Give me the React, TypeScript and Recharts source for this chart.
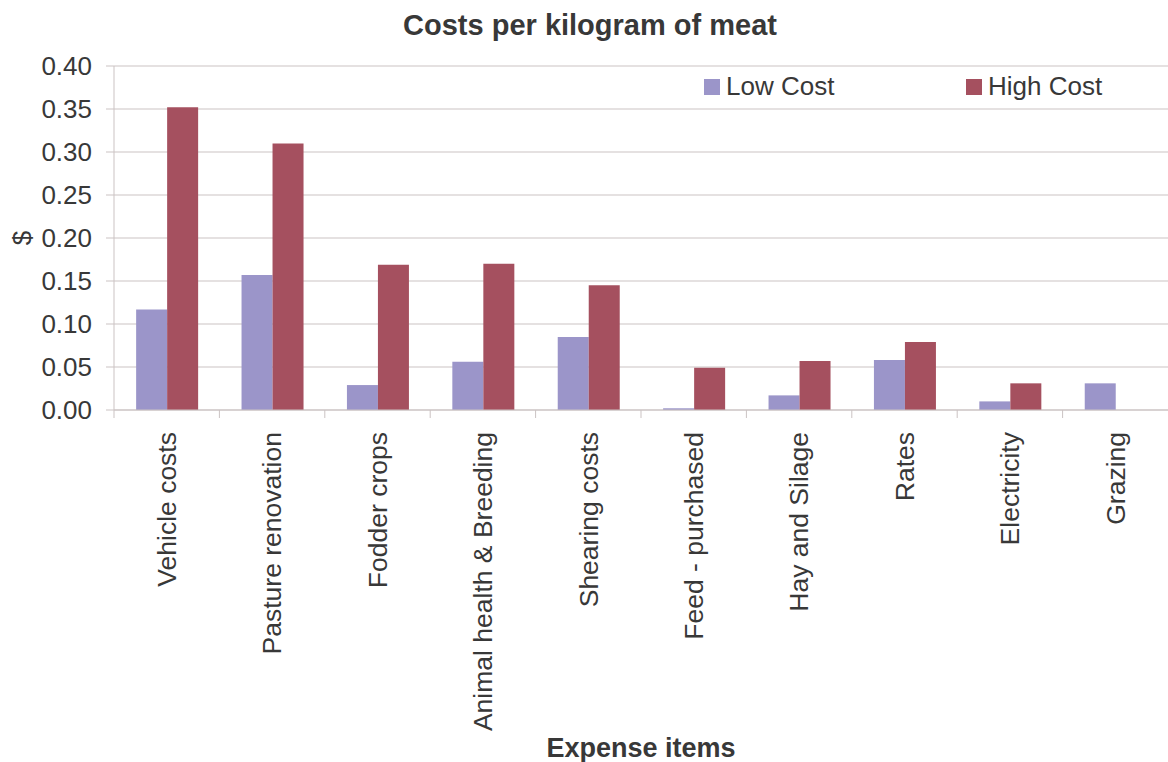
import { BarChart, Bar, XAxis, YAxis, CartesianGrid, Label } from 'recharts'

const CATEGORIES = [
  'Vehicle costs',
  'Pasture renovation',
  'Fodder crops',
  'Animal health & Breeding',
  'Shearing costs',
  'Feed - purchased',
  'Hay and Silage',
  'Rates',
  'Electricity',
  'Grazing',
]
const LOW_COST = [0.117, 0.157, 0.029, 0.056, 0.085, 0.002, 0.017, 0.058, 0.010, 0.031]
const HIGH_COST = [0.352, 0.310, 0.169, 0.170, 0.145, 0.049, 0.057, 0.079, 0.031, 0]
const Y_TICKS = [0, 0.05, 0.1, 0.15, 0.2, 0.25, 0.3, 0.35, 0.4]
const SERIES = [
  { key: 'low', label: 'Low Cost', color: '#9b95c9' },
  { key: 'high', label: 'High Cost', color: '#a5505f' },
]

const GRID_COLOR = '#cbc3c3'
const TEXT_COLOR = '#383838'
const FONT = '"Liberation Sans", Arial, sans-serif'

const W = 1168
const H = 762
const Y_AXIS_W = 114
const BAND = (W - Y_AXIS_W) / CATEGORIES.length

const data = CATEGORIES.map((name, i) => ({
  name,
  low: LOW_COST[i],
  high: HIGH_COST[i],
}))

function CategoryTick(props: any) {
  const { x, y, payload } = props
  return (
    <g>
      <line x1={x - BAND / 2} y1={y} x2={x - BAND / 2} y2={y + 8} stroke={GRID_COLOR} />
      <text
        x={x}
        y={y + 22}
        transform={`rotate(-90, ${x}, ${y + 22})`}
        textAnchor="end"
        dy="0.35em"
        fill={TEXT_COLOR}
        fontSize={26.5}
        fontFamily={FONT}
      >
        {payload.value}
      </text>
    </g>
  )
}

// rotated "$" to the left of the value axis
function DollarLabel(props: any) {
  const vb = props.viewBox || {}
  const cx = (vb.x ?? 0) + 22
  const cy = (vb.y ?? 0) + (vb.height ?? 0) / 2
  return (
    <text
      x={cx}
      y={cy}
      transform={`rotate(-90, ${cx}, ${cy})`}
      textAnchor="middle"
      dy="0.35em"
      fill={TEXT_COLOR}
      fontSize={26}
      fontFamily={FONT}
    >
      $
    </text>
  )
}

export default function App() {
  return (
    <div style={{ position: 'absolute', left: 0, top: 0, width: W, height: H, background: '#fff' }}>
      <div
        style={{
          position: 'absolute',
          top: 9,
          left: 0,
          width: W,
          textAlign: 'center',
          paddingLeft: 12,
          boxSizing: 'border-box',
          fontFamily: FONT,
          fontWeight: 'bold',
          fontSize: 29,
          color: TEXT_COLOR,
        }}
      >
        Costs per kilogram of meat
      </div>
      <div
        style={{
          position: 'absolute',
          top: 71,
          left: 704,
          display: 'flex',
          fontFamily: FONT,
          fontSize: 26,
          color: TEXT_COLOR,
          zIndex: 2,
        }}
      >
        {SERIES.map(s => (
          <div key={s.key} style={{ width: 262, display: 'flex', alignItems: 'center' }}>
            <span style={{ width: 16, height: 16, background: s.color, marginRight: 6 }} />
            <span>{s.label}</span>
          </div>
        ))}
      </div>
      <BarChart
        width={W}
        height={H}
        data={data}
        margin={{ top: 66, right: 0, left: 0, bottom: 0 }}
        barCategoryGap="21%"
        barGap={0}
      >
        <CartesianGrid horizontal vertical={false} stroke={GRID_COLOR} />
        <XAxis
          dataKey="name"
          interval={0}
          height={352}
          tickSize={0}
          tickMargin={0}
          stroke={GRID_COLOR}
          tick={<CategoryTick />}
          label={{
            value: 'Expense items',
            position: 'insideBottom',
            offset: 5,
            fill: TEXT_COLOR,
            fontSize: 27,
            fontWeight: 'bold',
            fontFamily: FONT,
          }}
        />
        <YAxis
          domain={[0, 0.4]}
          ticks={Y_TICKS}
          width={Y_AXIS_W}
          tickSize={8}
          tickMargin={14}
          stroke={GRID_COLOR}
          tickFormatter={(v: number) => v.toFixed(2)}
          tick={{ fill: TEXT_COLOR, fontSize: 26, fontFamily: FONT }}
        >
          <Label content={<DollarLabel />} />
        </YAxis>
        {SERIES.map(s => (
          <Bar key={s.key} dataKey={s.key} name={s.label} fill={s.color} isAnimationActive={false} />
        ))}
      </BarChart>
    </div>
  )
}
